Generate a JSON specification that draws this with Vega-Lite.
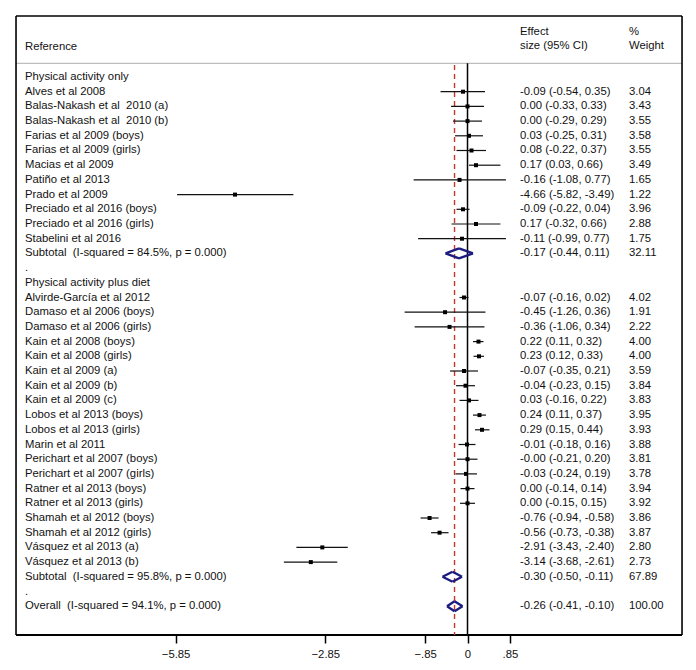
{
  "$schema": "https://vega.github.io/schema/vega-lite/v6.json",
  "width": 696,
  "height": 670,
  "autosize": {"type": "none"},
  "padding": 0,
  "background": "white",
  "config": {"view": {"stroke": null}, "text": {"font": "Liberation Sans", "fontSize": 11.3, "color": "#111"}},
  "datasets": {
    "rows": [
      {"row": 0, "type": "group", "label": "Physical activity only"},
      {"row": 1, "type": "study", "label": "Alves et al 2008", "est": -0.09, "lo": -0.54, "hi": 0.35, "ci": "-0.09 (-0.54, 0.35)", "w": "3.04"},
      {"row": 2, "type": "study", "label": "Balas-Nakash et al\u00a0 2010 (a)", "est": 0.0, "lo": -0.33, "hi": 0.33, "ci": "0.00 (-0.33, 0.33)", "w": "3.43"},
      {"row": 3, "type": "study", "label": "Balas-Nakash et al\u00a0 2010 (b)", "est": 0.0, "lo": -0.29, "hi": 0.29, "ci": "0.00 (-0.29, 0.29)", "w": "3.55"},
      {"row": 4, "type": "study", "label": "Farias et al 2009 (boys)", "est": 0.03, "lo": -0.25, "hi": 0.31, "ci": "0.03 (-0.25, 0.31)", "w": "3.58"},
      {"row": 5, "type": "study", "label": "Farias et al 2009 (girls)", "est": 0.08, "lo": -0.22, "hi": 0.37, "ci": "0.08 (-0.22, 0.37)", "w": "3.55"},
      {"row": 6, "type": "study", "label": "Macias et al 2009", "est": 0.17, "lo": 0.03, "hi": 0.66, "ci": "0.17 (0.03, 0.66)", "w": "3.49"},
      {"row": 7, "type": "study", "label": "Patiño et al 2013", "est": -0.16, "lo": -1.08, "hi": 0.77, "ci": "-0.16 (-1.08, 0.77)", "w": "1.65"},
      {"row": 8, "type": "study", "label": "Prado et al 2009", "est": -4.66, "lo": -5.82, "hi": -3.49, "ci": "-4.66 (-5.82, -3.49)", "w": "1.22"},
      {"row": 9, "type": "study", "label": "Preciado et al 2016 (boys)", "est": -0.09, "lo": -0.22, "hi": 0.04, "ci": "-0.09 (-0.22, 0.04)", "w": "3.96"},
      {"row": 10, "type": "study", "label": "Preciado et al 2016 (girls)", "est": 0.17, "lo": -0.32, "hi": 0.66, "ci": "0.17 (-0.32, 0.66)", "w": "2.88"},
      {"row": 11, "type": "study", "label": "Stabelini et al 2016", "est": -0.11, "lo": -0.99, "hi": 0.77, "ci": "-0.11 (-0.99, 0.77)", "w": "1.75"},
      {"row": 12, "type": "pooled", "label": "Subtotal\u00a0 (I-squared = 84.5%, p = 0.000)", "est": -0.17, "lo": -0.44, "hi": 0.11, "ci": "-0.17 (-0.44, 0.11)", "w": "32.11"},
      {"row": 13, "type": "dot", "label": "."},
      {"row": 14, "type": "group", "label": "Physical activity plus diet"},
      {"row": 15, "type": "study", "label": "Alvirde-García et al 2012", "est": -0.07, "lo": -0.16, "hi": 0.02, "ci": "-0.07 (-0.16, 0.02)", "w": "4.02"},
      {"row": 16, "type": "study", "label": "Damaso et al 2006 (boys)", "est": -0.45, "lo": -1.26, "hi": 0.36, "ci": "-0.45 (-1.26, 0.36)", "w": "1.91"},
      {"row": 17, "type": "study", "label": "Damaso et al 2006 (girls)", "est": -0.36, "lo": -1.06, "hi": 0.34, "ci": "-0.36 (-1.06, 0.34)", "w": "2.22"},
      {"row": 18, "type": "study", "label": "Kain et al 2008 (boys)", "est": 0.22, "lo": 0.11, "hi": 0.32, "ci": "0.22 (0.11, 0.32)", "w": "4.00"},
      {"row": 19, "type": "study", "label": "Kain et al 2008 (girls)", "est": 0.23, "lo": 0.12, "hi": 0.33, "ci": "0.23 (0.12, 0.33)", "w": "4.00"},
      {"row": 20, "type": "study", "label": "Kain et al 2009 (a)", "est": -0.07, "lo": -0.35, "hi": 0.21, "ci": "-0.07 (-0.35, 0.21)", "w": "3.59"},
      {"row": 21, "type": "study", "label": "Kain et al 2009 (b)", "est": -0.04, "lo": -0.23, "hi": 0.15, "ci": "-0.04 (-0.23, 0.15)", "w": "3.84"},
      {"row": 22, "type": "study", "label": "Kain et al 2009 (c)", "est": 0.03, "lo": -0.16, "hi": 0.22, "ci": "0.03 (-0.16, 0.22)", "w": "3.83"},
      {"row": 23, "type": "study", "label": "Lobos et al 2013 (boys)", "est": 0.24, "lo": 0.11, "hi": 0.37, "ci": "0.24 (0.11, 0.37)", "w": "3.95"},
      {"row": 24, "type": "study", "label": "Lobos et al 2013 (girls)", "est": 0.29, "lo": 0.15, "hi": 0.44, "ci": "0.29 (0.15, 0.44)", "w": "3.93"},
      {"row": 25, "type": "study", "label": "Marin et al 2011", "est": -0.01, "lo": -0.18, "hi": 0.16, "ci": "-0.01 (-0.18, 0.16)", "w": "3.88"},
      {"row": 26, "type": "study", "label": "Perichart et al 2007 (boys)", "est": 0.0, "lo": -0.21, "hi": 0.2, "ci": "-0.00 (-0.21, 0.20)", "w": "3.81"},
      {"row": 27, "type": "study", "label": "Perichart et al 2007 (girls)", "est": -0.03, "lo": -0.24, "hi": 0.19, "ci": "-0.03 (-0.24, 0.19)", "w": "3.78"},
      {"row": 28, "type": "study", "label": "Ratner et al 2013 (boys)", "est": 0.0, "lo": -0.14, "hi": 0.14, "ci": "0.00 (-0.14, 0.14)", "w": "3.94"},
      {"row": 29, "type": "study", "label": "Ratner et al 2013 (girls)", "est": 0.0, "lo": -0.15, "hi": 0.15, "ci": "0.00 (-0.15, 0.15)", "w": "3.92"},
      {"row": 30, "type": "study", "label": "Shamah et al 2012 (boys)", "est": -0.76, "lo": -0.94, "hi": -0.58, "ci": "-0.76 (-0.94, -0.58)", "w": "3.86"},
      {"row": 31, "type": "study", "label": "Shamah et al 2012 (girls)", "est": -0.56, "lo": -0.73, "hi": -0.38, "ci": "-0.56 (-0.73, -0.38)", "w": "3.87"},
      {"row": 32, "type": "study", "label": "Vásquez et al 2013 (a)", "est": -2.91, "lo": -3.43, "hi": -2.4, "ci": "-2.91 (-3.43, -2.40)", "w": "2.80"},
      {"row": 33, "type": "study", "label": "Vásquez et al 2013 (b)", "est": -3.14, "lo": -3.68, "hi": -2.61, "ci": "-3.14 (-3.68, -2.61)", "w": "2.73"},
      {"row": 34, "type": "pooled", "label": "Subtotal\u00a0 (I-squared = 95.8%, p = 0.000)", "est": -0.3, "lo": -0.5, "hi": -0.11, "ci": "-0.30 (-0.50, -0.11)", "w": "67.89"},
      {"row": 35, "type": "dot", "label": "."},
      {"row": 36, "type": "pooled", "label": "Overall\u00a0 (I-squared = 94.1%, p = 0.000)", "est": -0.26, "lo": -0.41, "hi": -0.1, "ci": "-0.26 (-0.41, -0.10)", "w": "100.00"}
    ]
  },
  "data": {"name": "rows"},
  "layer": [
    {
      "data": {"values": [{}]},
      "mark": {"type": "rule", "color": "#bdbdbd", "strokeWidth": 1.2},
      "encoding": {
        "x": {"datum": -9.048, "type": "quantitative", "scale": {"domain": [-9.369, 4.579], "nice": false, "zero": false},
          "axis": {"values": [-5.85, -2.85, -0.85, 0, 0.85], "labelExpr": "datum.value == 0 ? '0' : replace(format(datum.value, '.2f'), '0.', '.')", "offset": -35, "domain": false, "grid": false, "title": null, "tickColor": "black", "tickWidth": 1.5, "tickSize": 8, "labelFont": "Liberation Sans", "labelFontSize": 11.3, "labelColor": "#111", "labelPadding": 5}},
        "x2": {"datum": 4.299},
        "y": {"datum": -0.932, "type": "quantitative", "scale": {"domain": [-5.238, 40.34], "reverse": true, "nice": false, "zero": false}, "axis": null}
      }
    },
    {
      "data": {"values": [{}]},
      "mark": {"type": "rule", "color": "black", "strokeWidth": 1.6},
      "encoding": {"x": {"datum": -9.048, "type": "quantitative"}, "x2": {"datum": 4.299}, "y": {"datum": -4.15, "type": "quantitative"}}
    },
    {
      "data": {"values": [{}]},
      "mark": {"type": "rule", "color": "black", "strokeWidth": 2},
      "encoding": {"x": {"datum": -9.048, "type": "quantitative"}, "x2": {"datum": 4.299}, "y": {"datum": 37.96, "type": "quantitative"}}
    },
    {
      "data": {"values": [{}]},
      "mark": {"type": "rule", "color": "black", "strokeWidth": 1.6},
      "encoding": {"x": {"datum": -9.048, "type": "quantitative"}, "y": {"datum": -4.15, "type": "quantitative"}, "y2": {"datum": 37.96}}
    },
    {
      "data": {"values": [{}]},
      "mark": {"type": "rule", "color": "black", "strokeWidth": 1.6},
      "encoding": {"x": {"datum": 4.299, "type": "quantitative"}, "y": {"datum": -4.15, "type": "quantitative"}, "y2": {"datum": 37.96}}
    },
    {
      "data": {"values": [{}]},
      "mark": {"type": "rule", "color": "black", "strokeWidth": 1.5},
      "encoding": {"x": {"datum": 0, "type": "quantitative"}, "y": {"datum": -0.932, "type": "quantitative"}, "y2": {"datum": 37.96}}
    },
    {
      "data": {"values": [{}]},
      "mark": {"type": "rule", "color": "#c0392b", "strokeWidth": 1.4, "strokeDash": [5, 4]},
      "encoding": {"x": {"datum": -0.26, "type": "quantitative"}, "y": {"datum": -0.82, "type": "quantitative"}, "y2": {"datum": 37.96}}
    },
    {
      "transform": [{"filter": "datum.type == 'study'"}],
      "mark": {"type": "rule", "color": "#111", "strokeWidth": 1.2},
      "encoding": {"x": {"field": "lo", "type": "quantitative"}, "x2": {"field": "hi"}, "y": {"field": "row", "type": "quantitative"}}
    },
    {
      "transform": [{"filter": "datum.type == 'study'"}],
      "mark": {"type": "point", "shape": "square", "filled": true, "color": "#000", "size": 16, "opacity": 1},
      "encoding": {"x": {"field": "est", "type": "quantitative"}, "y": {"field": "row", "type": "quantitative"}}
    },
    {
      "transform": [{"filter": "datum.type == 'pooled'"}],
      "mark": {"type": "rule", "color": "#1c1c80", "strokeWidth": 2.4, "y2Offset": -5},
      "encoding": {"x": {"field": "lo", "type": "quantitative"}, "x2": {"field": "est"}, "y": {"field": "row", "type": "quantitative"}, "y2": {"field": "row"}}
    },
    {
      "transform": [{"filter": "datum.type == 'pooled'"}],
      "mark": {"type": "rule", "color": "#1c1c80", "strokeWidth": 2.4, "yOffset": -5},
      "encoding": {"x": {"field": "est", "type": "quantitative"}, "x2": {"field": "hi"}, "y": {"field": "row", "type": "quantitative"}, "y2": {"field": "row"}}
    },
    {
      "transform": [{"filter": "datum.type == 'pooled'"}],
      "mark": {"type": "rule", "color": "#1c1c80", "strokeWidth": 2.4, "y2Offset": 5},
      "encoding": {"x": {"field": "hi", "type": "quantitative"}, "x2": {"field": "est"}, "y": {"field": "row", "type": "quantitative"}, "y2": {"field": "row"}}
    },
    {
      "transform": [{"filter": "datum.type == 'pooled'"}],
      "mark": {"type": "rule", "color": "#1c1c80", "strokeWidth": 2.4, "yOffset": 5},
      "encoding": {"x": {"field": "est", "type": "quantitative"}, "x2": {"field": "lo"}, "y": {"field": "row", "type": "quantitative"}, "y2": {"field": "row"}}
    },
    {
      "mark": {"type": "text", "align": "left", "baseline": "middle"},
      "encoding": {"x": {"datum": -8.868, "type": "quantitative"}, "y": {"field": "row", "type": "quantitative"}, "text": {"field": "label"}}
    },
    {
      "transform": [{"filter": "datum.ci != null"}],
      "mark": {"type": "text", "align": "left", "baseline": "middle"},
      "encoding": {"x": {"datum": 1.052, "type": "quantitative"}, "y": {"field": "row", "type": "quantitative"}, "text": {"field": "ci"}}
    },
    {
      "transform": [{"filter": "datum.w != null"}],
      "mark": {"type": "text", "align": "left", "baseline": "middle"},
      "encoding": {"x": {"datum": 3.236, "type": "quantitative"}, "y": {"field": "row", "type": "quantitative"}, "text": {"field": "w"}}
    },
    {
      "data": {"values": [{}]},
      "mark": {"type": "text", "align": "left", "baseline": "middle", "text": "Reference"},
      "encoding": {"x": {"datum": -8.868, "type": "quantitative"}, "y": {"datum": -2.04, "type": "quantitative"}}
    },
    {
      "data": {"values": [{}]},
      "mark": {"type": "text", "align": "left", "baseline": "middle", "text": "Effect"},
      "encoding": {"x": {"datum": 1.052, "type": "quantitative"}, "y": {"datum": -3.08, "type": "quantitative"}}
    },
    {
      "data": {"values": [{}]},
      "mark": {"type": "text", "align": "left", "baseline": "middle", "text": "size (95% CI)"},
      "encoding": {"x": {"datum": 1.052, "type": "quantitative"}, "y": {"datum": -2.11, "type": "quantitative"}}
    },
    {
      "data": {"values": [{}]},
      "mark": {"type": "text", "align": "left", "baseline": "middle", "text": "%"},
      "encoding": {"x": {"datum": 3.236, "type": "quantitative"}, "y": {"datum": -3.08, "type": "quantitative"}}
    },
    {
      "data": {"values": [{}]},
      "mark": {"type": "text", "align": "left", "baseline": "middle", "text": "Weight"},
      "encoding": {"x": {"datum": 3.236, "type": "quantitative"}, "y": {"datum": -2.11, "type": "quantitative"}}
    }
  ]
}
